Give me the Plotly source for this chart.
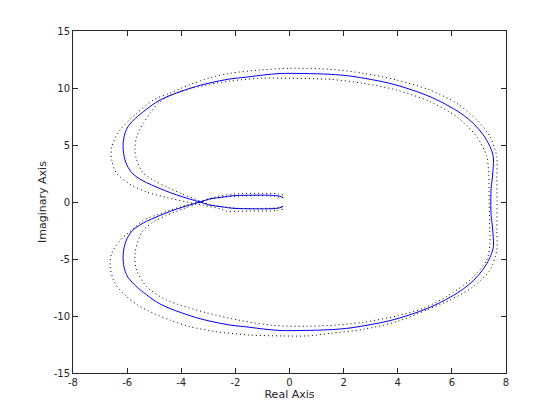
import plotly.graph_objects as go

# Nominal Nyquist curve, branch starting at w=0 on the right and going up and around
nom_re = [7.44, 7.45, 7.48, 7.52, 7.53, 7.41, 7.16, 6.79, 6.42, 5.93, 5.19, 4.45, 3.71, 2.98, 2.24,
          1.50, 0.50, -0.35, -0.97, -1.46, -2.20, -2.94, -3.68, -4.78, -5.40, -5.62,
          -5.82, -5.97, -6.07, -6.13, -6.15, -6.13, -6.08, -6.01, -5.90, -5.78, -5.45, -5.10,
          -4.60, -4.17, -3.70, -3.31, -2.94, -2.50, -2.08, -1.30, -0.60, -0.35, -0.23]
nom_im = [0.00, 1.20, 1.80, 2.80, 3.97, 4.85, 5.88, 6.90, 7.63, 8.36, 9.24, 9.89, 10.41, 10.76, 11.05,
          11.20, 11.27, 11.27, 11.14, 10.99, 10.79, 10.45, 9.97, 8.95, 7.92, 7.50,
          7.04, 6.60, 6.10, 5.50, 4.90, 4.27, 3.70, 3.25, 2.80, 2.45, 1.90, 1.50,
          1.00, 0.62, 0.27, 0.00, -0.27, -0.42, -0.55, -0.60, -0.58, -0.50, -0.35]

# Dotted bound 1 (outer), upper arc from the right going up
out_up_re = [7.67, 7.66, 7.66, 7.41, 6.92, 6.18, 5.19, 3.96, 2.73, 1.50, 0.02, -1.09, -2.20,
             -2.94, -3.68, -4.42, -5.03, -5.65, -6.26, -6.57, -6.57, -6.39, -5.85, -5.25,
             -4.54, -3.80, -3.18, -2.57, -2.32, -1.50, -0.48, -0.24]
out_up_im = [0.00, 2.00, 3.97, 5.73, 7.19, 8.66, 9.82, 10.70, 11.29, 11.64, 11.73, 11.58, 11.29,
             10.90, 10.30, 9.55, 8.95, 7.78, 6.32, 4.85, 3.68, 2.52, 1.50, 0.85,
             0.40, 0.00, -0.29, -0.59, -0.80, -0.79, -0.75, -0.63]
# Dotted bound 1 (outer), lower arc from the right going down
out_lo_re = [7.67, 7.66, 7.66, 7.41, 6.79, 5.93, 5.07, 3.96, 2.73, 1.50, 0.64, -0.23, -1.46,
             -2.69, -3.68, -4.42, -5.03, -5.60, -6.02, -6.45, -6.63, -6.57, -6.23, -5.77,
             -5.40, -4.78, -4.05, -3.31, -2.75, -2.08, -0.48, -0.24]
out_lo_im = [0.00, -2.50, -4.21, -5.96, -7.43, -8.60, -9.47, -10.50, -11.17, -11.52, -11.75,
             -11.75, -11.67, -11.38, -10.94, -10.35, -9.76, -9.05, -8.31, -7.13, -5.68, -4.50,
             -3.30, -2.34, -1.61, -1.03, -0.44, 0.04, 0.44, 0.70, 0.73, 0.61]

# Dotted bound 2 (inner), upper arc from the right going up
in_up_re = [7.38, 7.36, 7.29, 6.92, 6.18, 5.19, 3.96, 2.73, 1.50, 0.02, -1.09, -2.20, -2.94,
            -3.68, -4.42, -4.85, -5.15, -5.40, -5.65, -5.71, -5.65, -5.40, -4.97, -4.49,
            -4.05, -3.60, -3.31, -2.94, -2.08, -0.84, -0.40, -0.24]
in_up_im = [0.00, 2.50, 3.97, 5.73, 7.48, 8.80, 9.82, 10.41, 10.76, 10.85, 10.85, 10.61, 10.32,
            9.92, 9.33, 8.66, 7.78, 6.90, 5.73, 4.56, 3.68, 2.52, 1.84, 1.27,
            0.79, 0.35, 0.09, -0.22, -0.53, -0.55, -0.50, -0.38]
# Dotted bound 2 (inner), lower arc from the right going down
in_lo_re = [7.38, 7.40, 7.41, 7.29, 6.67, 5.80, 4.95, 3.96, 2.73, 1.74, 0.64, -0.60, -1.80,
            -3.10, -4.54, -5.28, -5.65, -5.71, -5.45, -5.03, -4.54, -3.92, -3.43,
            -2.94, -2.08, -0.84, -0.24]
in_lo_im = [0.00, -2.50, -3.62, -5.09, -6.84, -8.30, -9.32, -10.00, -10.55, -10.79, -10.90,
            -10.82, -10.40, -9.70, -8.60, -7.43, -5.96, -4.50, -2.63, -1.75, -1.17,
            -0.59, -0.15, 0.25, 0.50, 0.55, 0.38]

x_ticks = [-8, -6, -4, -2, 0, 2, 4, 6, 8]
x_labels = ["-8", "-6", "-4", "-2", "0", "2", "4", "6", "8"]
y_ticks = [-15, -10, -5, 0, 5, 10, 15]
y_labels = ["-15", "-10", "-5", "0", "5", "10", "15"]

# Full nominal loop: mirrored branch (reversed) followed by the upper branch
full_re = nom_re[::-1] + nom_re[1:]
full_im = [-v for v in nom_im][::-1] + nom_im[1:]

b1_re = out_lo_re[::-1] + out_up_re[1:]
b1_im = out_lo_im[::-1] + out_up_im[1:]
b2_re = in_lo_re[::-1] + in_up_re[1:]
b2_im = in_lo_im[::-1] + in_up_im[1:]

fig = go.Figure()
fig.add_trace(go.Scatter(x=full_re, y=full_im, mode="lines",
                         line=dict(color="#0000ff", width=1, shape="spline", smoothing=1.0),
                         hoverinfo="skip"))
for bx, by in [(b1_re, b1_im), (b2_re, b2_im)]:
    fig.add_trace(go.Scatter(x=bx, y=by, mode="lines",
                             line=dict(color="#000000", width=1, dash="1px,3px",
                                       shape="spline", smoothing=0.8),
                             hoverinfo="skip"))

axis_common = dict(
    showgrid=False, zeroline=False, showline=True, linecolor="#262626", linewidth=1,
    mirror="ticks", ticks="inside", ticklen=5, tickcolor="#262626", tickwidth=1,
    tickfont=dict(family="DejaVu Sans", size=10, color="#262626"),
)
# the page body adds an 8px offset, so the figure is 552x412 with margins adjusted
fig.update_layout(
    width=552, height=412,
    margin=dict(l=65, r=54, t=23, b=47, pad=0),
    paper_bgcolor="white", plot_bgcolor="white",
    showlegend=False,
    font=dict(family="DejaVu Sans", size=11, color="#262626"),
    xaxis=dict(range=[-8, 8], tickvals=x_ticks, ticktext=x_labels, automargin=False,
               title=dict(text="Real Axis", font=dict(size=11, color="#262626"), standoff=2),
               **axis_common),
    yaxis=dict(range=[-15, 15], tickvals=y_ticks, ticktext=y_labels, automargin=False,
               title=dict(text="Imaginary Axis", font=dict(size=11, color="#262626"), standoff=4),
               **axis_common),
)
fig.write_html("out.html")
